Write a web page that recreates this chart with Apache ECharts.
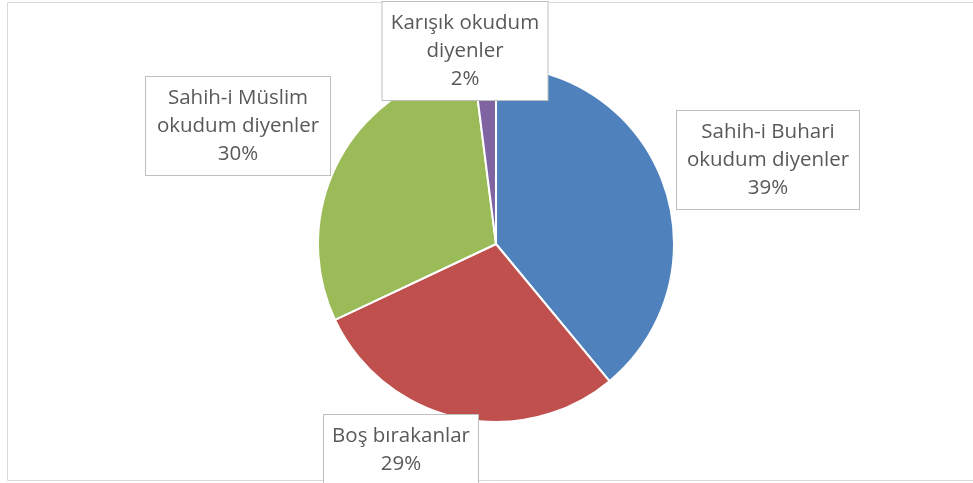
<!DOCTYPE html>
<html>
<head>
<meta charset="utf-8">
<script src="https://cdn.jsdelivr.net/npm/echarts@6/dist/echarts.min.js"></script>
<style>
  html, body { margin: 0; padding: 0; background: #fff; }
  #chart { width: 973px; height: 483px; }
</style>
</head>
<body>
<div id="chart"></div>
<script>
// dilimler saat yönünde, tepeden başlayarak
const names = [
  'Sahih-i Buhari\nokudum diyenler',
  'Boş bırakanlar',
  'Sahih-i Müslim\nokudum diyenler',
  'Karışık okudum\ndiyenler'
];
const values = [39, 29, 30, 2];
const colors = ['#4F81BD', '#C0504D', '#9BBB59', '#8064A2'];

// etiket kutularının yerleri (orta nokta) ve genişlikleri
const labelPos = [[768, 160], [401, 450], [238, 126], [465, 51]];
const labelW = [182, 154, 184, 165];

let myChart = echarts.init(document.getElementById('chart'));

let option = {
  backgroundColor: '#ffffff',
  animation: false,
  graphic: [{
    type: 'rect',
    shape: { x: 7.5, y: 2.5, width: 1000, height: 478 },
    style: { fill: 'none', stroke: '#d9d9d9', lineWidth: 1 },
    silent: true
  }],
  series: [{
    type: 'pie',
    center: [496, 244],
    radius: 178,
    startAngle: 90,
    clockwise: true,
    itemStyle: { borderColor: '#ffffff', borderWidth: 2 },
    label: {
      show: true,
      formatter: '{b}\n{c}%',
      fontFamily: 'Open Sans',
      fontSize: 20.5,
      lineHeight: 28,
      color: '#595959',
      align: 'center',
      backgroundColor: '#ffffff',
      borderColor: '#bfbfbf',
      borderWidth: 1,
      padding: [7, 0]
    },
    labelLine: { show: false },
    labelLayout: function (params) {
      let p = labelPos[params.dataIndex];
      return { x: p[0], y: p[1], align: 'center', verticalAlign: 'middle' };
    },
    data: names.map((n, i) => ({
      name: n,
      value: values[i],
      itemStyle: { color: colors[i] },
      label: { width: labelW[i] }
    }))
  }]
};
myChart.setOption(option);
</script>
</body>
</html>
